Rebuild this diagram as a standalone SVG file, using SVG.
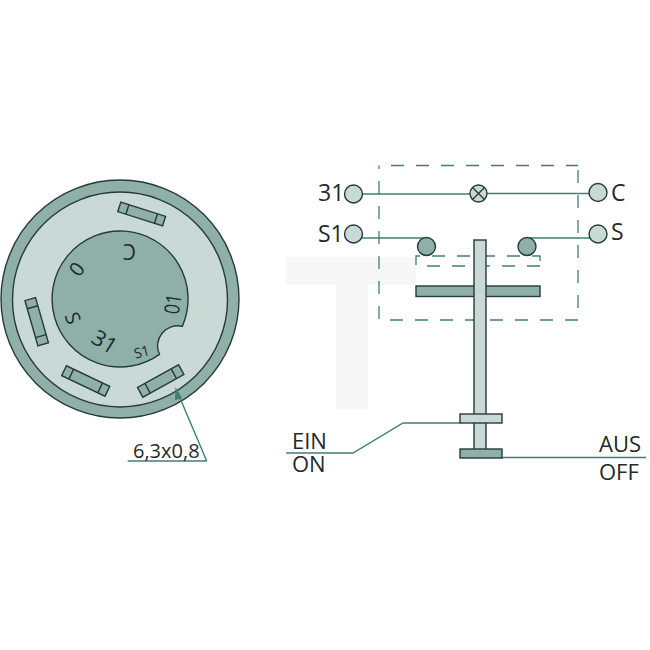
<svg xmlns="http://www.w3.org/2000/svg" width="650" height="650" viewBox="0 0 650 650">
<style>
.o{stroke:#263a38;stroke-width:1.4}
.m{fill:#8fb0a8}
.l{fill:#c9d9d5}
.c{fill:none;stroke:#3f7f74;stroke-width:1.4}
.d{fill:none;stroke:#3f7f74;stroke-width:1.3;stroke-dasharray:13 12}
text{font-family:"Open Sans","Noto Sans",sans-serif;fill:#1f2a2a}
.t{font-size:23px}
.k{font-size:20px}
.e{font-size:22px}
</style>
<rect width="650" height="650" fill="#fff"/>
<g id="watermark" fill="#f7f7f7"><path d="M286 257H416V285H368V409H336V285H286Z"/></g>
<g id="switch-face">
<circle class="o m" cx="120" cy="299" r="119"/>
<circle class="o l" cx="120" cy="299.5" r="107.5"/>
<path class="o m" d="M182.300 326.400A68 68 0 1 0 159.500 354.400A20 20 0 0 1 182.300 326.400Z"/>
<g id="terminal-top" transform="translate(141.700 214) rotate(17.700)"><rect class="o m" x="-23.500" y="-5" width="47" height="10"/><path class="o" d="M-15-5V5M15-5V5"/></g>
<g id="terminal-left" transform="translate(36.700 321.700) rotate(74)"><rect class="o m" x="-23.500" y="-5.500" width="47" height="11"/><path class="o" d="M-15-5.500V5.500M15-5.500V5.500"/></g>
<g id="terminal-bottom-left" transform="translate(85.700 381) rotate(25.500)"><rect class="o m" x="-24" y="-5.500" width="48" height="11"/><path class="o" d="M-16-5.500V5.500M16-5.500V5.500"/></g>
<g id="terminal-bottom-right" transform="translate(160.700 381) rotate(-29)"><rect class="o m" x="-23.500" y="-5.500" width="47" height="11"/><path class="o" d="M-15-5.500V5.500M15-5.500V5.500"/></g>
<g text-anchor="middle">
<text transform="translate(129.300 251) rotate(180)" y="7.500" font-size="21">C</text>
<text transform="translate(76.700 269) rotate(127)" y="7" font-size="20">0</text>
<text transform="translate(72.700 318) rotate(69)" y="7" font-size="20">S</text>
<text transform="translate(104.500 342) rotate(32)" y="7.500" font-size="22">31</text>
<text transform="translate(141.700 352) rotate(-15)" y="5" font-size="14">S1</text>
<text transform="translate(172.700 304) rotate(-82)" y="7.500" font-size="21" textLength="20" lengthAdjust="spacingAndGlyphs">01</text>
</g>
</g>
<g id="connectors">
<path class="c" d="M206.700 461H127.700M206.700 461L177 391"/>
<path d="M175.500 387L182 398L175 400Z" fill="#3f7f74"/>
<path class="c" d="M362 194H470M487 193.500H589M362 238H424M527 238H590M286 453H353L403 423H460M502 457.500H646"/>
<path class="d" d="M391 165.500H578M578 170V320H379V165.500"/>
<path class="d" d="M416 265V256H540V265M540 266H426"/>
</g>
<g id="terminal-31"><circle class="o l" cx="353.500" cy="194" r="9"/></g>
<g id="terminal-C"><circle class="o l" cx="598" cy="192.500" r="9"/></g>
<g id="terminal-S1"><circle class="o l" cx="353.500" cy="234" r="9"/></g>
<g id="terminal-S"><circle class="o l" cx="598" cy="234" r="9"/></g>
<g id="lamp"><circle class="o l" cx="478.500" cy="193.500" r="8.500"/><path class="o" fill="none" d="M472.500 187.500L484.500 199.500M484.500 187.500L472.500 199.500"/></g>
<g id="contact-left"><circle class="o m" cx="426.500" cy="246.500" r="9"/></g>
<g id="contact-right"><circle class="o m" cx="527" cy="246.500" r="9"/></g>
<g id="plunger">
<rect class="o m" x="416" y="286" width="124" height="10.500"/>
<rect class="o l" x="474" y="240" width="12" height="210"/>
<rect class="o l" x="460" y="414" width="42" height="9"/>
<rect class="o m" x="460" y="449" width="42" height="9"/>
</g>
<g id="labels">
<text class="t" x="318" y="201">31</text>
<text class="t" x="318" y="242">S1</text>
<text class="t" x="611" y="201">C</text>
<text class="t" x="611" y="240">S</text>
<text class="k" x="133" y="458">6,3x0,8</text>
<text class="e" x="292" y="449">EIN</text>
<text class="e" x="292" y="472">ON</text>
<text class="e" x="599" y="452">AUS</text>
<text class="e" x="599" y="480">OFF</text>
</g>
</svg>
